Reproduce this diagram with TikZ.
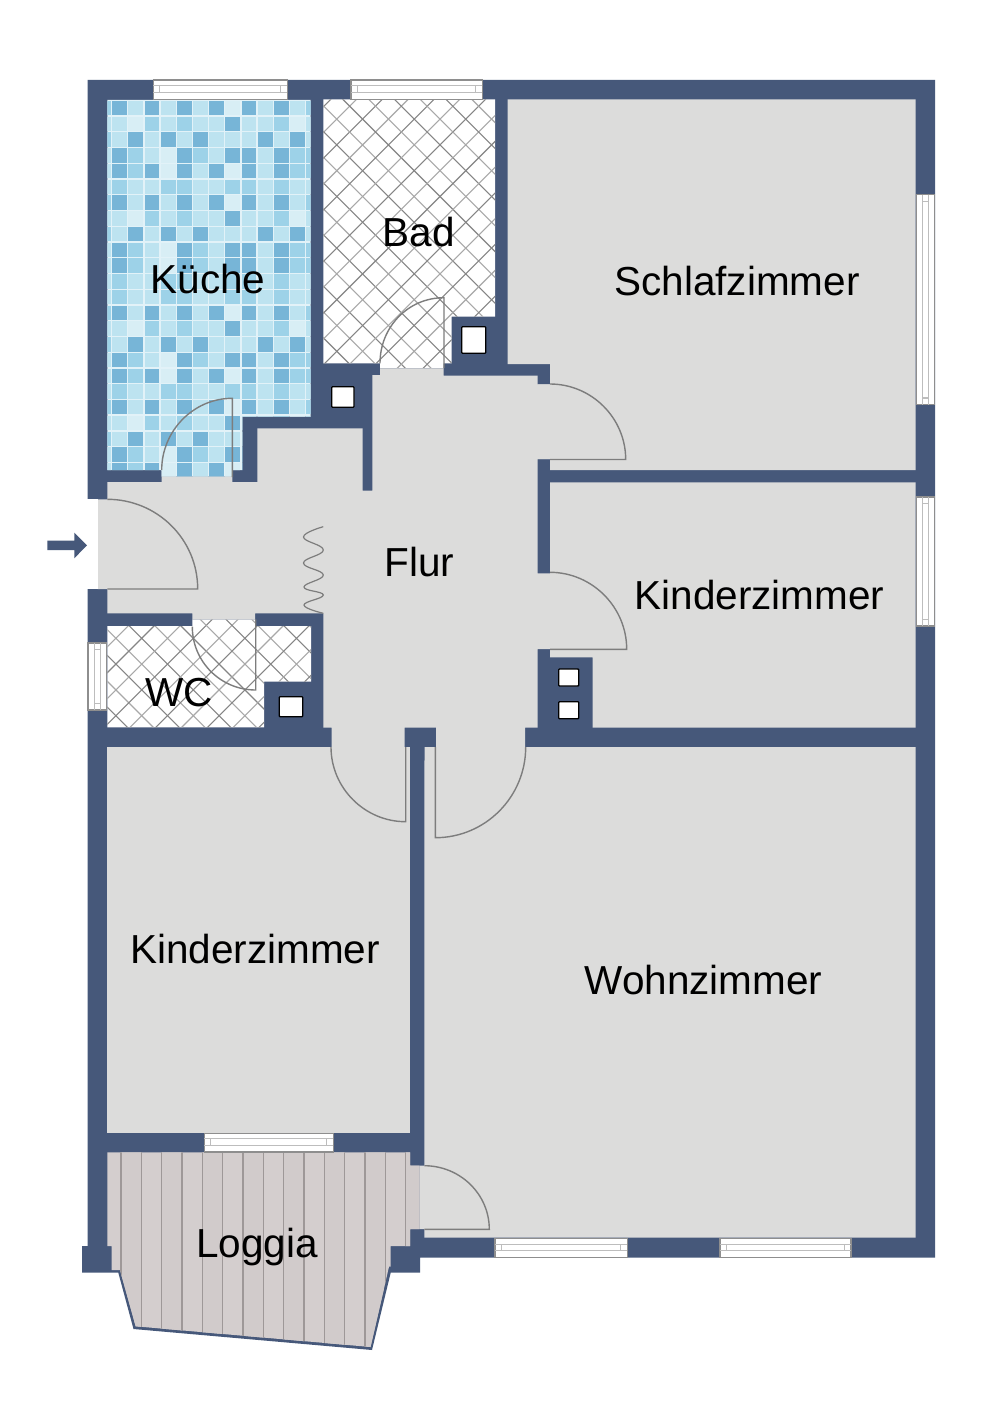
\documentclass[tikz,border=0pt]{standalone}
\usepackage{fontspec}
\setmainfont{Liberation Sans}
\definecolor{wall}{HTML}{46587A}
\definecolor{floorgray}{HTML}{DCDCDB}
\definecolor{doorline}{HTML}{7D7D7D}
\definecolor{winframe}{HTML}{8E8E8E}
\definecolor{winline}{HTML}{BDBDBD}
\definecolor{hatchA}{HTML}{858585}
\definecolor{hatchB}{HTML}{A8A8A8}
\definecolor{grout}{HTML}{E2F2F8}
\definecolor{tile0}{HTML}{D8EEF5}
\definecolor{tile1}{HTML}{BDE3F0}
\definecolor{tile2}{HTML}{9DD2E8}
\definecolor{tile3}{HTML}{77B5D7}
\definecolor{woodA}{HTML}{D4CECE}
\definecolor{woodB}{HTML}{D1CBCB}
\definecolor{woodline}{HTML}{9E9898}
\tikzset{
  wallfill/.style={fill=wall,draw=none},
  roomfloor/.style={fill=floorgray,draw=none},
  doorstroke/.style={draw=doorline,line width=1.4pt},
  flue/.style={fill=white,draw=black,line width=1.3pt,rounded corners=0.8pt},
  roomlabel/.style={anchor=base,font=\fontsize{40.5}{44}\selectfont,text=black,inner sep=0pt},
  winbox/.style={fill=white,draw=winframe,line width=1.2pt},
  winrail/.style={draw=winline,line width=1.1pt}
}
% horizontal window: x1 x2 y1 y2
\newcommand{\hwin}[4]{%
  \pgfmathsetmacro\wa{#3+(#4-#3)*0.30}\pgfmathsetmacro\wb{#3+(#4-#3)*0.65}%
  \pgfmathsetmacro\ta{#1+6.5}\pgfmathsetmacro\tb{#2-6.5}%
  \path[winbox] (#1,#3) rectangle (#2,#4);
  \draw[winrail] (#1,\wa) -- (#2,\wa) (#1,\wb) -- (#2,\wb) (\ta,\wa) -- (\ta,\wb) (\tb,\wa) -- (\tb,\wb);
}
% vertical window: x1 x2 y1 y2
\newcommand{\vwin}[4]{%
  \pgfmathsetmacro\wa{#1+(#2-#1)*0.35}\pgfmathsetmacro\wb{#1+(#2-#1)*0.68}%
  \pgfmathsetmacro\ta{#3+6.5}\pgfmathsetmacro\tb{#4-6.5}%
  \path[winbox] (#1,#3) rectangle (#2,#4);
  \draw[winrail] (\wa,#3) -- (\wa,#4) (\wb,#3) -- (\wb,#4) (\wa,\ta) -- (\wb,\ta) (\wa,\tb) -- (\wb,\tb);
}
% tile row: row index, level list (columns -1..12)
\newcommand{\tilerow}[2]{%
  \pgfmathsetmacro\ty{101+15.74*#1}%
  \foreach \lev [count=\c from -1] in #2 {%
    \pgfmathsetmacro\tx{112.3+16.17*\c}%
    \fill[tile\lev] (\tx,\ty) rectangle ++(14.8,14.4);
  }%
}
\def\RA{2,3,1,3,1,3,1,3,0,3,1,3,1,2}
\def\RB{1,1,0,2,1,2,1,1,3,1,1,2,0,1}
\def\RC{2,1,3,1,3,1,3,1,1,1,3,1,3,1}
\def\RD{1,3,2,1,0,3,2,1,3,3,1,3,2,2}
\def\RE{1,3,2,3,0,3,1,3,0,3,1,3,2,2}
\def\RF{1,2,1,1,2,2,1,1,2,2,1,2,1,1}
% hatch: c for x-y family, c for x+y family, y0, y1
\newcommand{\hatchlines}[4]{%
  \foreach \k in {-15,...,15} {%
    \pgfmathsetmacro\pa{#1+25.8*\k}\pgfmathsetmacro\pb{#2+25.8*\k}%
    \pgfmathtruncatemacro\hpar{abs(mod(\k,2))}%
    \pgfmathsetmacro\ax{\pa+#3}\pgfmathsetmacro\bx{\pa+#4}%
    \pgfmathsetmacro\cx{\pb-#3}\pgfmathsetmacro\dx{\pb-#4}%
    \ifnum\hpar=0 \def\hc{hatchA}\else\def\hc{hatchB}\fi
    \draw[\hc,line width=1.1pt] (\ax,#3) -- (\bx,#4) (\cx,#3) -- (\dx,#4);
  }%
}
\begin{document}
\begin{tikzpicture}[x=1pt,y=-1pt]
\useasboundingbox (0,0) rectangle (1000,1415);
\fill[white] (0,0) rectangle (1000,1415);

% walls: one solid mass, floors are laid on top
\path[wallfill] (87.5,80) -- (935,80) -- (935,1257.5) -- (420,1257.5) -- (420,1272.7) -- (390.7,1272.7)
  -- (372,1350) -- (133.5,1329) -- (118.3,1272.7) -- (82,1272.7) -- (82,1246) -- (87.5,1246) -- cycle;

% Kueche mosaic
\begin{scope}
\clip (107.3,100) -- (310.7,100) -- (310.7,416.7) -- (242.3,416.7) -- (242.3,470) -- (232.3,470) -- (232.3,476.7) -- (161.7,476.7) -- (161.7,470) -- (107.3,470) -- cycle;
\fill[grout] (100,90) rectangle (320,480);
\tilerow{0}{\RA}\tilerow{1}{\RB}\tilerow{2}{\RC}\tilerow{3}{\RD}\tilerow{4}{\RE}\tilerow{5}{\RF}
\tilerow{6}{\RA}\tilerow{7}{\RB}\tilerow{8}{\RC}\tilerow{9}{\RD}\tilerow{10}{\RD}\tilerow{11}{\RF}\tilerow{12}{\RF}
\tilerow{13}{\RA}\tilerow{14}{\RB}\tilerow{15}{\RC}\tilerow{16}{\RD}\tilerow{17}{\RE}\tilerow{18}{\RF}
\tilerow{19}{\RA}\tilerow{20}{\RB}\tilerow{21}{\RC}\tilerow{22}{\RD}\tilerow{23}{\RE}
\end{scope}

% Bad
\begin{scope}
\clip (323.3,99.5) -- (495,99.5) -- (495,316.7) -- (451.7,316.7) -- (451.7,363.3) -- (443.7,363.3) -- (443.7,368.3) -- (380,368.3) -- (380,363.3) -- (323.3,363.3) -- cycle;
\fill[white] (320,95) rectangle (500,370);
\hatchlines{243.5}{533.3}{90}{375}
\end{scope}

% WC
\begin{scope}
\clip (107.3,626) -- (192.3,626) -- (192.3,619.3) -- (255,619.3) -- (255,626) -- (311,626) -- (311,681.7) -- (264,681.7) -- (264,727.3) -- (107.3,727.3) -- cycle;
\fill[white] (100,615) rectangle (315,730);
\hatchlines{-496.6}{780}{610}{735}
\end{scope}

% gray floors
\path[roomfloor] (507.5,99.5) -- (915.5,99.5) -- (915.5,470) -- (550,470) -- (550,459) -- (537.7,459) -- (537.7,384.3) -- (550,384.3) -- (550,364) -- (507.5,364) -- cycle;
\path[roomfloor] (550,482.3) -- (915.5,482.3) -- (915.5,727.7) -- (592.7,727.7) -- (592.7,657.3) -- (550,657.3) -- cycle;
\path[roomfloor] (107.3,482) -- (161.7,482) -- (161.7,476.7) -- (232.3,476.7) -- (232.3,482) -- (257.3,482) -- (257.3,428.3) -- (362.7,428.3) -- (362.7,490.7) -- (372.3,490.7) -- (372.3,375) -- (380,375) -- (380,368.3) -- (443.7,368.3) -- (443.7,375.7) -- (537.7,375.7) -- (537.7,384.3) -- (550,384.3) -- (550,459) -- (537.7,459) -- (537.7,573.3) -- (550,573.3) -- (550,649) -- (537.7,649) -- (537.7,727.7) -- (525,727.7) -- (525,747) -- (436,747) -- (436,727.7) -- (404.7,727.7) -- (404.7,747) -- (331.7,747) -- (331.7,727.7) -- (323.3,727.7) -- (323.3,613.3) -- (255,613.3) -- (255,619.3) -- (192.3,619.3) -- (192.3,613.3) -- (107.3,613.3) -- (107.3,589) -- (97.7,589) -- (97.7,499.3) -- (107.3,499.3) -- cycle;
\path[roomfloor] (107.3,747) rectangle (410,1132.7);
\path[roomfloor] (424.5,747) -- (915.5,747) -- (915.5,1237.5) -- (424.3,1237.5) -- (424.3,1229) -- (419.3,1229) -- (419.3,1165.7) -- (424.3,1165.7) -- cycle;

% Loggia planks
\begin{scope}
\clip (107.3,1152.3) -- (410,1152.3) -- (410,1165.7) -- (419.3,1165.7) -- (419.3,1229) -- (410,1229) -- (410,1246) -- (390.7,1246) -- (390.7,1266.7) -- (389,1266.7) -- (370.5,1347) -- (135.7,1326.3) -- (120,1270) -- (111.7,1270) -- (111.7,1246) -- (107.3,1246) -- cycle;
\fill[woodA] (100,1150) rectangle (425,1355);
\foreach \k in {0,2,...,14} {\fill[woodB] ({121+20.33*\k},1150) rectangle ++(20.33,205);}
\foreach \k in {0,...,14} {\draw[woodline,line width=1.2pt] ({121+20.33*\k},1150) -- ++(0,205);}
\end{scope}

% entrance opening in the outer wall
\fill[white] (87,499.3) rectangle (97.7,589);

% windows
\hwin{153.3}{287.3}{80}{99.5}
\hwin{351}{482.3}{80}{99.5}
\hwin{204.3}{333.3}{1133.3}{1152}
\hwin{495}{627.3}{1238.5}{1257.3}
\hwin{720}{851}{1238.5}{1257.3}
\vwin{916.5}{934.5}{194.7}{404.5}
\vwin{916.5}{934.5}{497}{626}
\vwin{88}{106.5}{643}{710}

% flues
\path[flue] (461.7,326.7) rectangle (485.7,353.3);
\path[flue] (331.7,386.7) rectangle (354,407.3);
\path[flue] (279.3,696.7) rectangle (302.7,716.7);
\path[flue] (558.7,669) rectangle (578.7,686);
\path[flue] (558.7,701.7) rectangle (578.7,718.7);

% doors
\path[doorstroke] (161.7,470) .. controls (161.7,431) and (193.3,398.3) .. (232.3,398.3) -- (232.3,477);
\path[doorstroke] (380,363.3) .. controls (380,327) and (408,297.7) .. (444,297.7) -- (444,368);
\path[doorstroke] (550,384) .. controls (591.6,384) and (625.7,418) .. (625.7,459.5) -- (550,459.5);
\path[doorstroke] (550,572.3) .. controls (592,572.3) and (626.7,607) .. (626.7,649.3) -- (550,649.3);
\path[doorstroke] (331,747) .. controls (331,788) and (364.7,821.7) .. (405.7,821.7) -- (405.7,747);
\path[doorstroke] (525.7,747) .. controls (525.7,797) and (485.3,837.7) .. (435.3,837.7) -- (435.3,747);
\path[doorstroke] (107.3,499.3) .. controls (157,499.3) and (197.7,539) .. (197.7,589) -- (107.3,589);
\path[doorstroke] (192.3,626.7) .. controls (192.3,661.7) and (220.7,690) .. (255.7,690) -- (255.7,619.3);
\path[doorstroke] (424.3,1165.7) .. controls (460,1165.7) and (489.3,1194) .. (489.3,1229.3) -- (424.3,1229.3);

% curtain
\draw[doorstroke,line width=1.2pt] plot[smooth,tension=0.75] coordinates {(323.3,526.7) (303.5,537) (323.3,550) (303.5,563) (323.3,575) (304,587) (323.3,595) (304,605) (323.3,613.3)};

% entrance arrow
\path[fill=wall] (47.3,540.7) -- (74.3,540.7) -- (74.3,532.7) -- (87,545.3) -- (74.3,558.3) -- (74.3,550) -- (47.3,550) -- cycle;

% labels
\node[roomlabel] (kueche) at (208,293) {Küche};
\node[roomlabel] (bad) at (419,247) {Bad};
\node[roomlabel] (schlaf) at (737,295) {Schlafzimmer};
\node[roomlabel] (kinderO) at (759.5,609) {Kinderzimmer};
\node[roomlabel] (flur) at (419.5,576) {Flur};
\node[roomlabel] (wc) at (179.5,706.5) {WC};
\node[roomlabel] (kinderU) at (255,963) {Kinderzimmer};
\node[roomlabel] (wohn) at (703.5,994) {Wohnzimmer};
\node[roomlabel] (loggia) at (257,1257.5) {Loggia};
\end{tikzpicture}
\end{document}
